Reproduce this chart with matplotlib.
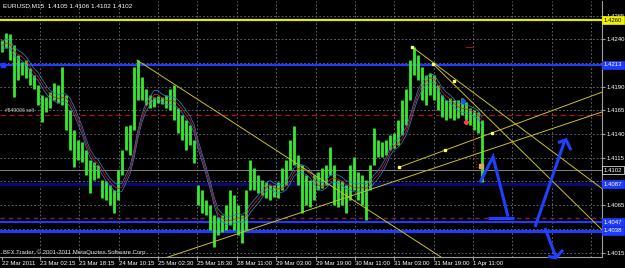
import numpy as np
import pandas as pd
import matplotlib
matplotlib.use("Agg")
import matplotlib.pyplot as plt
import matplotlib.transforms as mtransforms

# EURUSD M15, 22 Mar - 1 Apr 2011
# one sample = high/low of ~6.5 M15 bars
hi = [1.4239, 1.4247, 1.4245, 1.4234, 1.4223, 1.4216, 1.4218, 1.4210, 1.4202, 1.4192,
      1.4181, 1.4179, 1.4184, 1.4194, 1.4192, 1.4211, 1.4181, 1.4165, 1.4144, 1.4134,
      1.4132, 1.4123, 1.4113, 1.4111, 1.4107, 1.4092, 1.4090, 1.4086, 1.4081, 1.4102,
      1.4123, 1.4148, 1.4150, 1.4211, 1.4218, 1.4200, 1.4187, 1.4181, 1.4179, 1.4180,
      1.4179, 1.4181, 1.4187, 1.4192, 1.4168, 1.4160, 1.4155, 1.4150, 1.4134, 1.4086,
      1.4081, 1.4071, 1.4065, 1.4055, 1.4053, 1.4055, 1.4065, 1.4081, 1.4076, 1.4065,
      1.4055, 1.4081, 1.4113, 1.4104, 1.4097, 1.4092, 1.4089, 1.4086, 1.4086, 1.4089,
      1.4104, 1.4113, 1.4134, 1.4148, 1.4118, 1.4107, 1.4097, 1.4092, 1.4097, 1.4100,
      1.4104, 1.4107, 1.4126, 1.4107, 1.4092, 1.4090, 1.4086, 1.4107, 1.4116, 1.4100,
      1.4097, 1.4092, 1.4107, 1.4146, 1.4134, 1.4132, 1.4134, 1.4139, 1.4141, 1.4155,
      1.4176, 1.4187, 1.4218, 1.4232, 1.4223, 1.4211, 1.4202, 1.4204, 1.4202, 1.4192,
      1.4181, 1.4176, 1.4178, 1.4176, 1.4176, 1.4178, 1.4174, 1.4168, 1.4165, 1.4163,
      1.4155]
lo = [1.4227, 1.4231, 1.4218, 1.4179, 1.4197, 1.4202, 1.4199, 1.4192, 1.4187, 1.4171,
      1.4153, 1.4163, 1.4168, 1.4176, 1.4173, 1.4171, 1.4144, 1.4123, 1.4105, 1.4113,
      1.4111, 1.4097, 1.4078, 1.4092, 1.4094, 1.4073, 1.4071, 1.4065, 1.4057, 1.4071,
      1.4097, 1.4123, 1.4118, 1.4144, 1.4176, 1.4176, 1.4171, 1.4168, 1.4169, 1.4173,
      1.4172, 1.4168, 1.4165, 1.4155, 1.4141, 1.4134, 1.4123, 1.4129, 1.4110, 1.4065,
      1.4057, 1.4055, 1.4039, 1.4021, 1.4034, 1.4037, 1.4039, 1.4044, 1.4039, 1.4034,
      1.4025, 1.4039, 1.4081, 1.4081, 1.4078, 1.4076, 1.4073, 1.4071, 1.4074, 1.4073,
      1.4081, 1.4086, 1.4102, 1.4107, 1.4086, 1.4057, 1.4065, 1.4063, 1.4071, 1.4081,
      1.4083, 1.4086, 1.4097, 1.4065, 1.4063, 1.4065, 1.4057, 1.4071, 1.4081, 1.4071,
      1.4065, 1.4049, 1.4081, 1.4107, 1.4116, 1.4116, 1.4118, 1.4123, 1.4125, 1.4128,
      1.4139, 1.4150, 1.4176, 1.4202, 1.4197, 1.4176, 1.4171, 1.4181, 1.4176, 1.4165,
      1.4158, 1.4155, 1.4157, 1.4155, 1.4157, 1.4160, 1.4155, 1.4150, 1.4144, 1.4141,
      1.4089]

time_labels = ["22 Mar 2011", "23 Mar 02:15", "23 Mar 18:15", "24 Mar 10:15", "25 Mar 02:30",
               "25 Mar 18:30", "28 Mar 11:00", "29 Mar 03:00", "29 Mar 19:00", "30 Mar 11:00",
               "31 Mar 03:00", "31 Mar 19:00", "1 Apr 11:00"]
price_ticks = [1.4015, 1.4040, 1.4065, 1.4090, 1.4115, 1.4140, 1.4165, 1.4190, 1.4215, 1.4240, 1.4265]
hidden_ticks = [1.4040, 1.4090, 1.4215]   # covered by the price boxes
title = "EURUSD,M15  1.4105 1.4106 1.4102 1.4102"

# horizontal objects
yellow_lvl = 1.4260
blue_lvls = [1.4213, 1.4047, 1.4038]
navy_lvl = 1.4087
bid = 1.4102
sell_lvl = 1.4160
purple_lvl = 1.4052

# trend lines (sample index, price)
tl_1 = [(33.75, 1.4218), (115.0, 1.3996)]
tl_2 = [(41.25, 1.4010), (150.5, 1.4164)]
tl_3 = [(99.25, 1.4105), (150.5, 1.4185)]
tl_a = [(102.5, 1.4232), (150.5, 1.4081)]
tl_b = [(107.75, 1.4214), (150.5, 1.4037)]
squares = [(102.5, 1.4232), (107.75, 1.4214), (113.0, 1.4196),
           (99.25, 1.4105), (110.75, 1.4123), (122.5, 1.4141)]

# hand-drawn blue arrows
arrow_1 = [(119.5, 1.4089), (122.75, 1.4116), (126.5, 1.4053)]
arrow_1b = [(121.5, 1.40516), (128.0, 1.40516)]
arrow_2 = [(133.25, 1.4042), (140.75, 1.4134)]
arrow_2h = [(139.0, 1.4131), (141.0, 1.4134), (142.25, 1.4123)]
arrow_3 = [(135.75, 1.4041), (138.5, 1.4010)]
arrow_3h = [(136.5, 1.4011), (138.5, 1.40095), (140.25, 1.4018)]

green = "#35ea2e"
x = np.arange(len(hi))
hi = np.array(hi); lo = np.array(lo)
mid = pd.Series((hi + lo) / 2)
ma = mid.rolling(6, min_periods=1).mean()

fig = plt.figure(figsize=(6.25, 2.68), dpi=100, facecolor="black")
ax = fig.add_axes([0, 11 / 268, 602 / 625, 256 / 268], facecolor="black")
ax.set_xlim(-0.5, 150)
ax.set_ylim(1.40104, 1.42803)

# grid
vgrid = [9.5 + 9.84 * k for k in range(15)]
for v in vgrid:
    ax.axvline(v, color="#6e7480", lw=0.6, ls=(0, (2, 2.5)), zorder=0)
for p in price_ticks:
    ax.axhline(p, color="#6e7480", lw=0.6, ls=(0, (2, 2.5)), zorder=0)

# levels
ax.axhline(yellow_lvl, color="#e8e800", lw=1.6, zorder=2)
ax.axhline(blue_lvls[0], color="#1d3cff", lw=1.5, zorder=2)
ax.axhline(blue_lvls[1], color="#1d3cff", lw=1.5, zorder=2)
ax.axhline(blue_lvls[2], color="#1d3cff", lw=2.2, zorder=2)
ax.axhline(navy_lvl, color="#0a0a6e", lw=2.4, zorder=1)
ax.axhline(bid, color="#808080", lw=0.7, zorder=1)
ax.axhline(sell_lvl, color="#b01010", lw=0.8, ls=(0, (5, 3)), zorder=1)
ax.axhline(purple_lvl, color="#8a1a5a", lw=1.0, ls=(0, (3, 3)), zorder=1)

# price
ax.vlines(x, lo, hi, color=green, lw=2.0, zorder=3)
ax.plot(x, ma * 1.0003, color="#2a7fd0", lw=0.55, zorder=4)
ax.plot(x, ma * 0.9997, color="#2a7fd0", lw=0.55, zorder=4)
ax.plot(x, ma, color="#e01818", lw=0.55, zorder=4)

# trend lines
for tl in (tl_1, tl_2, tl_3, tl_a, tl_b):
    ax.plot([tl[0][0], tl[1][0]], [tl[0][1], tl[1][1]], color="#c8c020", lw=0.7, zorder=5)
ax.plot([s[0] for s in squares], [s[1] for s in squares], ls="none", marker="s",
        ms=2.0, mfc="#ffff60", mec="#ffff60", zorder=6)

# order markers
ax.plot([117.5, 118.75], [1.4152, 1.4104], color="#c01818", lw=0.8, ls=(0, (1, 1.5)), zorder=6)
ax.plot(116.0, 1.4153, marker="P", ms=3.0, color="#ff4040", zorder=6)
ax.plot(115.25, 1.4175, marker="o", ms=2.6, color="#2050ff", zorder=6)
ax.plot(119.75, 1.4106, marker="s", ms=2.2, color="#e8a060", zorder=6)
ax.plot([116.0, 117.5], [1.4232, 1.4232], color="#a01010", lw=0.8, zorder=6)
ax.plot(0.2, blue_lvls[0], marker="s", ms=2.2, color="#1d3cff", zorder=6)

# arrows
for seg in (arrow_1, arrow_1b, arrow_2, arrow_2h, arrow_3, arrow_3h):
    ax.plot([s[0] for s in seg], [s[1] for s in seg], color="#1f40ff", lw=2.2,
            solid_capstyle="butt", solid_joinstyle="miter", zorder=7, clip_on=False)

# axes look
for s in ("left", "top"):
    ax.spines[s].set_visible(False)
for s in ("right", "bottom"):
    ax.spines[s].set_color("#a0a0a0")
    ax.spines[s].set_linewidth(0.8)

fs = 4.3
ax.yaxis.tick_right()
ax.set_yticks(price_ticks)
ax.set_yticklabels(["" if p in hidden_ticks else "%.4f" % p for p in price_ticks])
ax.tick_params(axis="y", colors="#a0a0a0", labelcolor="white", labelsize=fs, length=2, pad=1.5)
xt = [0] + vgrid[:len(time_labels) - 1]
ax.set_xticks(xt)
ax.set_xticklabels(time_labels, ha="left")
ax.tick_params(axis="x", colors="#a0a0a0", labelcolor="white", labelsize=fs, length=2, pad=1)
for lab in ax.get_xticklabels() + ax.get_yticklabels():
    lab.set_family("Liberation Sans")

# right side price boxes
tr = mtransforms.blended_transform_factory(ax.transAxes, ax.transData)
boxes = [(yellow_lvl, "#f0f000", "black"), (blue_lvls[0], "#1d3cff", "white"),
         (bid, "black", "white"), (navy_lvl, "#1d3cff", "white"),
         (blue_lvls[1], "#1d3cff", "white"), (blue_lvls[2], "#1d3cff", "white")]
for p, fc, tc in boxes:
    ax.text(1.003, p, "%.4f" % p, transform=tr, ha="left", va="center", fontsize=fs,
            family="Liberation Sans", color=tc, clip_on=False, zorder=10,
            bbox=dict(boxstyle="square,pad=0.25", fc=fc, ec="white" if fc == "black" else fc, lw=0.5))

fig.text(3 / 625, 1 - 6 / 268, title, color="white", fontsize=fs + 0.3, va="center",
         family="Liberation Sans")
fig.text(3 / 625, 1 - 252 / 268, "BFX Trader, \u00a9 2001-2011 MetaQuotes Software Corp.",
         color="#e0e0e0", fontsize=fs, va="center", family="Liberation Sans")
ax.text(5 / 602, sell_lvl + 0.0005, "#549006 sell", transform=tr, color="#d0d0d0",
        fontsize=3.6, va="center", family="Liberation Sans", zorder=8)

fig.savefig("out.png", dpi=100, facecolor="black")
